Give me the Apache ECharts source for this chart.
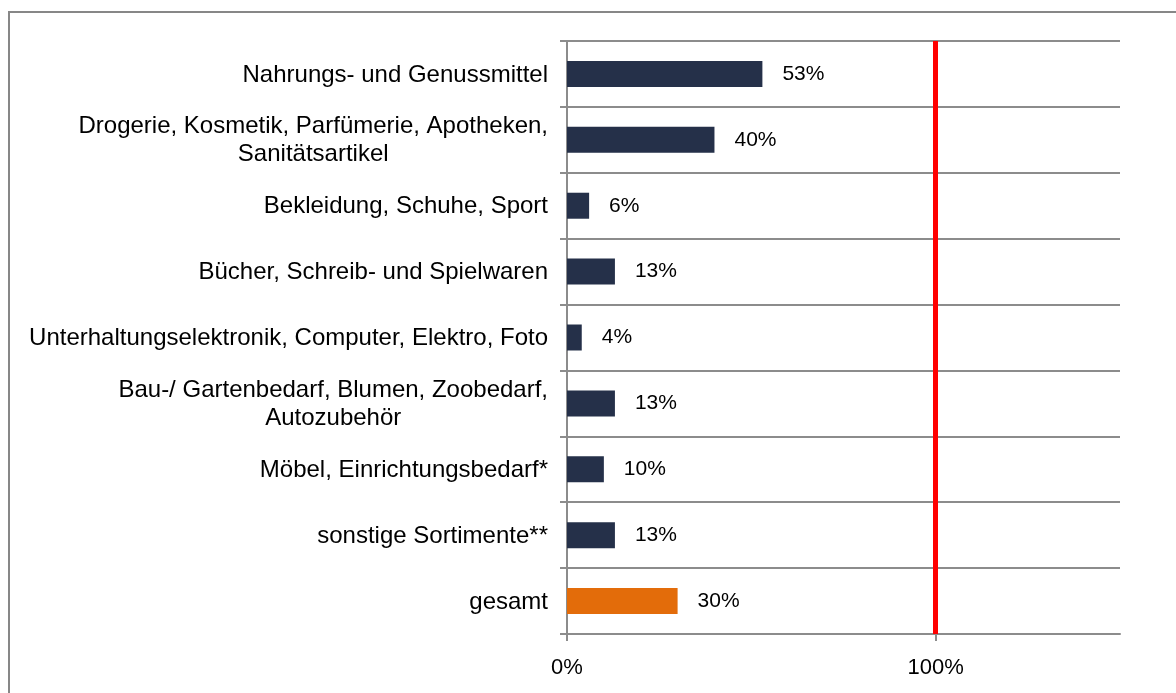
<!DOCTYPE html>
<html>
<head>
<meta charset="utf-8">
<script src="https://cdn.jsdelivr.net/npm/echarts@6/dist/echarts.min.js"></script>
<style>
  html, body { margin: 0; padding: 0; background: #fff; }
</style>
</head>
<body>
<!-- chart container, same size as the window -->
<div id="main" style="width: 1176px;height: 693px;"></div>
<script>
var categories = [
  'Nahrungs- und Genussmittel',
  'Drogerie, Kosmetik, Parfümerie, Apotheken,\nSanitätsartikel',
  'Bekleidung, Schuhe, Sport',
  'Bücher, Schreib- und Spielwaren',
  'Unterhaltungselektronik, Computer, Elektro, Foto',
  'Bau-/ Gartenbedarf, Blumen, Zoobedarf,\nAutozubehör',
  'Möbel, Einrichtungsbedarf*',
  'sonstige Sortimente**',
  'gesamt'
]
var shares = [53, 40, 6, 13, 4, 13, 10, 13, 30]
var xTicks = [0, 100]
var targetLine = 100

var font = 'Liberation Sans, Arial, sans-serif'
var myChart = echarts.init(document.getElementById('main'))
var option = {
  animation: false,
  textStyle: { fontFamily: font },
  graphic: [
    {
      type: 'rect',
      shape: { x: 9, y: 12, width: 1200, height: 720 },
      style: { fill: 'none', stroke: '#878787', lineWidth: 2 },
      silent: true
    }
  ],
  grid: { left: 567, right: 56, top: 41, bottom: 59 },
  xAxis: {
    type: 'value',
    min: 0,
    max: 150,
    interval: 100,
    splitLine: { show: false },
    axisLine: { show: true, lineStyle: { color: '#8c8c8c', width: 2 } },
    axisTick: { show: true, customValues: xTicks, length: 7, lineStyle: { color: '#8c8c8c', width: 2 } },
    axisLabel: {
      customValues: xTicks,
      margin: 23,
      fontSize: 22,
      color: '#000',
      fontFamily: font,
      formatter: function (v) { return v + '%' }
    }
  },
  yAxis: {
    type: 'category',
    inverse: true,
    data: categories,
    axisLine: { show: true, lineStyle: { color: '#8c8c8c', width: 2 } },
    axisTick: { show: true, length: 7, lineStyle: { color: '#8c8c8c', width: 2 } },
    splitLine: { show: true, lineStyle: { color: '#8c8c8c', width: 2 } },
    axisLabel: {
      margin: 19,
      color: '#000',
      fontSize: 24,
      fontFamily: font,
      lineHeight: 28,
      formatter: function (v) {
        return v.split('\n').map(function (s) { return '{c|' + s + '}' }).join('\n')
      },
      rich: {
        c: { align: 'center', fontSize: 24, lineHeight: 28, color: '#000', fontFamily: font, padding: [2, 0, 0, 0] }
      }
    }
  },
  series: [
    {
      type: 'bar',
      data: shares,
      barWidth: 26,
      itemStyle: {
        color: function (p) { return p.name === 'gesamt' ? '#e36c0a' : '#253049' }
      },
      label: {
        show: true,
        position: 'right',
        distance: 20,
        fontSize: 21,
        color: '#000',
        fontFamily: font,
        formatter: '{c}%'
      },
      markLine: {
        silent: true,
        symbol: 'none',
        label: { show: false },
        lineStyle: { color: '#ff0000', width: 5, type: 'solid' },
        data: [{ xAxis: targetLine }]
      }
    }
  ]
}
myChart.setOption(option)
</script>
</body>
</html>
